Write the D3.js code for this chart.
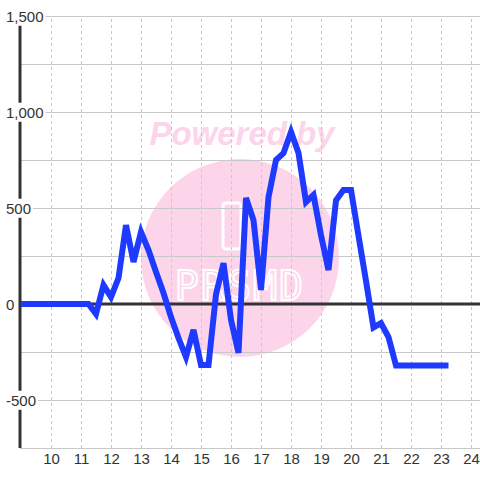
<!DOCTYPE html>
<html>
<head>
<meta charset="utf-8">
<script src="https://cdn.jsdelivr.net/npm/d3@7"></script>
<style>
html,body{margin:0;padding:0;background:#fff;}
svg{display:block;}
</style>
</head>
<body>
<svg id="chart" width="480" height="480"></svg>
<script>
const times = [9,9.25,9.5,9.75,10,10.25,10.5,10.75,11,11.25,11.5,11.75,12,12.25,12.5,12.75,13,13.25,13.5,13.75,
  14,14.25,14.5,14.75,15,15.25,15.5,15.75,16,16.25,16.5,16.75,17,17.25,17.5,17.75,18,18.25,18.5,18.75,
  19,19.25,19.5,19.75,20,20.25,20.5,20.75,21,21.25,21.5,21.75,22,22.25,22.5,22.75,23,23.25];
const values = [0,0,0,0,0,0,0,0,0,0,-52,99,36,135,411,219,375,281,167,57,
  -68,-177,-276,-135,-318,-318,50,213,-83,-255,552,437,73,557,750,786,896,786,531,568,
  359,177,540,594,594,355,120,-122,-100,-172,-320,-320,-320,-320,-320,-320,-320,-320];
const xTicks = [10,11,12,13,14,15,16,17,18,19,20,21,22,23,24];
const yGrid = [-750,-500,-250,0,250,500,750,1000,1250,1500];
const yTicks = [-500,0,500,1000,1500];
const yTickLabels = ["-500","0","500","1,000","1,500"];

const svg = d3.select("#chart");
const x = d3.scaleLinear().domain([9 - 1/30, 24.3]).range([20, 480]);
const y = d3.scaleLinear().domain([-750, 1500]).range([448, 16]);

// watermark
const wm = svg.append("g");
wm.append("circle").attr("cx",240).attr("cy",258).attr("r",99).attr("fill","#fcd5eb");
wm.append("text").attr("x",242).attr("y",145).attr("text-anchor","middle")
  .attr("font-family","Liberation Sans, Arial, sans-serif").attr("font-weight","bold")
  .attr("font-style","italic").attr("font-size",33).attr("fill","#fcd5eb").text("Powered by");
wm.append("rect").attr("x",223).attr("y",203).attr("width",18).attr("height",46).attr("rx",3)
  .attr("fill","none").attr("stroke","#fff").attr("stroke-width",3);
wm.append("text").attr("x",240).attr("y",300).attr("text-anchor","middle")
  .attr("font-family","DejaVu Sans Mono, monospace").attr("font-size",40)
  .attr("letter-spacing",2).attr("fill","none").attr("stroke","#fff").attr("stroke-width",2)
  .text("PRSMD");

// vertical dashed grid
const gx = svg.append("g").attr("transform","translate(0,448)")
  .call(d3.axisBottom(x).tickValues(xTicks).tickSize(-432).tickFormat(""));
gx.select(".domain").remove();
gx.selectAll(".tick line").attr("stroke","#c8c8c8").attr("stroke-dasharray","3,3");

// horizontal grid
const gy = svg.append("g").attr("transform","translate(20,0)")
  .call(d3.axisLeft(y).tickValues(yGrid).tickSize(-460).tickFormat(""));
gy.select(".domain").remove();
gy.selectAll(".tick line").attr("stroke","#c8c8c8").attr("stroke-width",1);

// zero line
svg.append("line").attr("x1",20).attr("x2",480).attr("y1",y(0)).attr("y2",y(0))
  .attr("stroke","#333").attr("stroke-width",3);
// y axis line
svg.append("line").attr("x1",20).attr("x2",20).attr("y1",y(1500)).attr("y2",y(-750))
  .attr("stroke","#333").attr("stroke-width",3);

// data line
const line = d3.line().x((d,i)=>x(times[i])).y(d=>y(d));
svg.append("path").datum(values).attr("d",line).attr("fill","none")
  .attr("stroke","#1f3aff").attr("stroke-width",6).attr("stroke-linejoin","miter");

// y labels with white background
const yl = svg.append("g").attr("transform","translate(6,0)")
  .call(d3.axisRight(y).tickValues(yTicks).tickSize(0).tickPadding(0)
    .tickFormat((d,i)=>yTickLabels[i]));
yl.select(".domain").remove();
yl.selectAll(".tick text").attr("font-family","Liberation Sans, Arial, sans-serif")
  .attr("font-size",15).attr("fill","#333").attr("dy","0.35em");
yl.selectAll(".tick").each(function(){
  const t = d3.select(this).select("text");
  const bb = t.node().getBBox();
  d3.select(this).insert("rect","text").attr("x",bb.x-2).attr("y",bb.y-1)
    .attr("width",bb.width+4).attr("height",bb.height+2).attr("fill","#fff");
});

// x labels
const xl = svg.append("g").attr("transform","translate(0,453)")
  .call(d3.axisBottom(x).tickValues(xTicks).tickSize(0).tickPadding(0));
xl.select(".domain").remove();
xl.selectAll(".tick text").attr("font-family","Liberation Sans, Arial, sans-serif")
  .attr("font-size",15).attr("fill","#333");
</script>
</body>
</html>
